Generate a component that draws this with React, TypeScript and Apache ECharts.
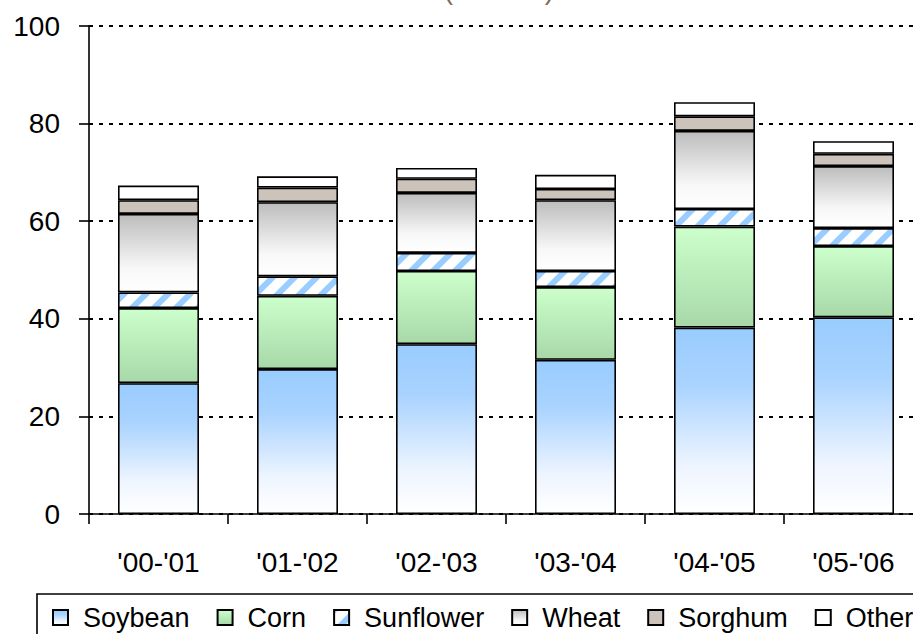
import React, { useEffect, useRef } from "react";
import * as echarts from "echarts";

const categories = ["'00-'01", "'01-'02", "'02-'03", "'03-'04", "'04-'05", "'05-'06"];
const soybean = [26.8, 29.7, 34.8, 31.6, 38.2, 40.3];
const corn = [15.4, 15.0, 15.0, 14.9, 20.7, 14.6];
const sunflower = [3.2, 4.0, 3.7, 3.3, 3.6, 3.7];
const wheat = [16.1, 15.2, 12.3, 14.5, 16.0, 12.7];
const sorghum = [2.8, 3.0, 2.9, 2.3, 3.0, 2.5];
const other = [3.0, 2.3, 2.2, 2.9, 2.9, 2.6];
const yTicks = { min: 0, max: 100, interval: 20 };
const titleText = "(Mil. MT)";

const FONT = "'Liberation Sans', Arial, sans-serif";

function stripeCanvas(): HTMLCanvasElement {
  const s = 22;
  const c = document.createElement("canvas");
  c.width = s;
  c.height = s;
  const ctx = c.getContext("2d")!;
  ctx.fillStyle = "#ffffff";
  ctx.fillRect(0, 0, s, s);
  ctx.strokeStyle = "#99ccff";
  ctx.lineWidth = 6;
  for (const k of [0, s, 2 * s]) {
    ctx.beginPath();
    ctx.moveTo(k + 6, -6);
    ctx.lineTo(-6, k + 6);
    ctx.stroke();
  }
  return c;
}

export default function App() {
  const ref = useRef<HTMLDivElement>(null);
  useEffect(() => {
    if (!ref.current) return;
    const chart = echarts.init(ref.current, undefined, { renderer: "svg" });
    const grad = (stops: [number, string][]) =>
      new echarts.graphic.LinearGradient(0, 0, 0, 1, stops.map(([offset, color]) => ({ offset, color })));
    const border = { borderColor: "#000", borderWidth: 1.6 };
    const mk = (name: string, data: number[], color: any) => ({
      name,
      type: "bar",
      stack: "total",
      data,
      barWidth: 81,
      itemStyle: { color, ...border },
      emphasis: { disabled: true },
    });
    chart.setOption({
      animation: false,
      graphic: [
        {
          type: "text",
          x: 499,
          y: -11,
          style: {
            text: titleText,
            font: `28px ${FONT}`,
            fill: "#7b6b58",
            textAlign: "center",
            textVerticalAlign: "middle",
          },
        },
      ],
      grid: { left: 89, width: 834, top: 26, height: 488, containLabel: false, outerBoundsMode: "none" },
      legend: {
        left: 37,
        top: 594,
        width: 1000,
        padding: [10, 15, 10, 15],
        borderColor: "#000",
        borderWidth: 1.6,
        itemWidth: 15,
        itemHeight: 15,
        itemGap: 27,
        icon: "rect",
        textStyle: { fontFamily: FONT, fontSize: 27, color: "#000", padding: [0, 0, 0, 10] },
        data: ["Soybean", "Corn", "Sunflower", "Wheat", "Sorghum", "Other"],
      },
      xAxis: {
        type: "category",
        data: categories,
        boundaryGap: true,
        axisLine: { lineStyle: { color: "#000", width: 1.6 } },
        axisTick: { show: true, length: 10, inside: false, lineStyle: { color: "#000", width: 1.6 } },
        axisLabel: { fontFamily: FONT, fontSize: 28, color: "#000", margin: 34 },
      },
      yAxis: {
        type: "value",
        min: yTicks.min,
        max: yTicks.max,
        interval: yTicks.interval,
        axisLine: { show: true, lineStyle: { color: "#000", width: 1.6 } },
        axisTick: { show: true, length: 10, lineStyle: { color: "#000", width: 1.6 } },
        axisLabel: { fontFamily: FONT, fontSize: 28, color: "#000", margin: 29 },
        splitLine: { show: true, lineStyle: { color: "#000", width: 2, type: [4, 6] } },
      },
      series: [
        mk("Soybean", soybean, grad([[0, "#99ccff"], [0.3, "#a9d3ff"], [0.75, "#eef5ff"], [1, "#ffffff"]])),
        mk("Corn", corn, grad([[0, "#ccffcc"], [1, "#a8d8a8"]])),
        mk("Sunflower", sunflower, { image: stripeCanvas(), repeat: "repeat" }),
        mk("Wheat", wheat, grad([[0, "#bdbdbd"], [0.7, "#f8f8f8"], [1, "#ffffff"]])),
        mk("Sorghum", sorghum, "#ccc3bb"),
        mk("Other", other, "#ffffff"),
      ],
    });
    return () => chart.dispose();
  }, []);
  return <div ref={ref} style={{ width: 913, height: 634, position: "absolute", left: 0, top: 0 }} />;
}
